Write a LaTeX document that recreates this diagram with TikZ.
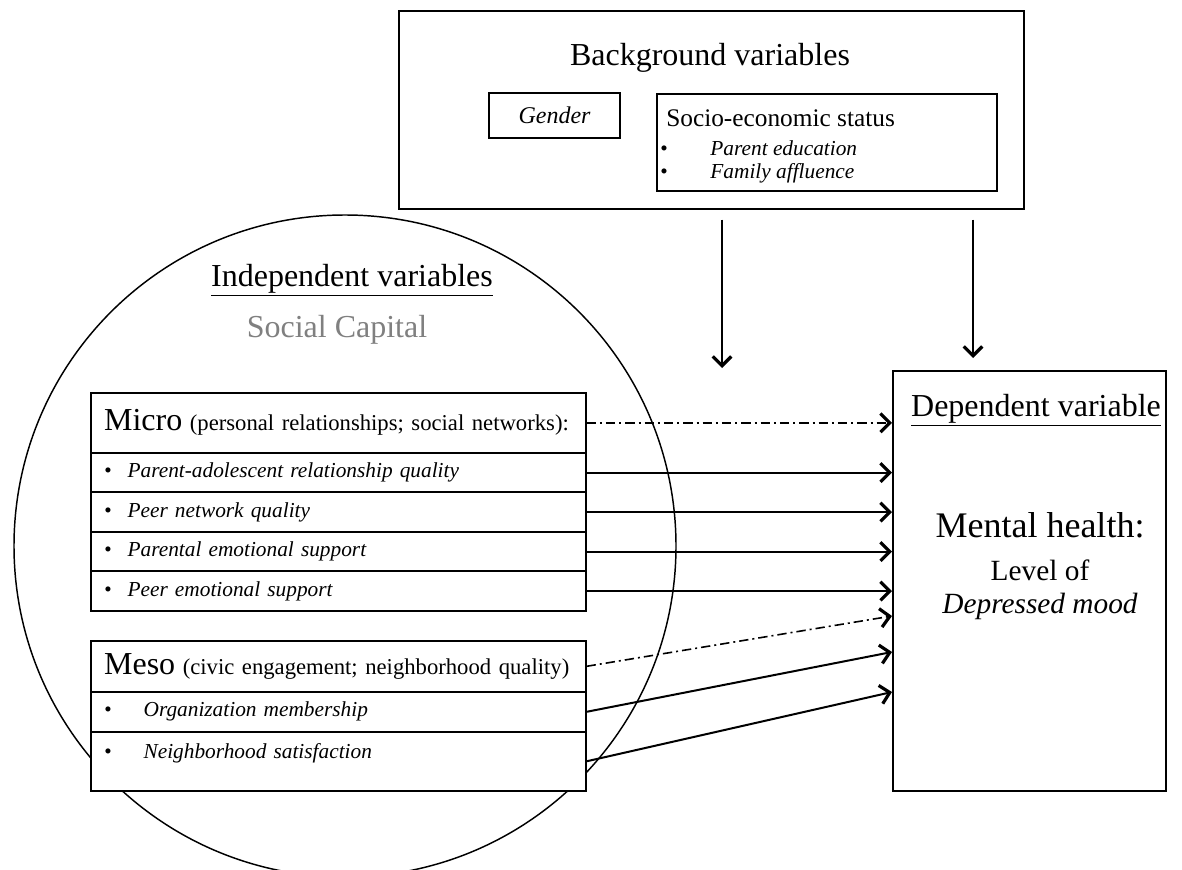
\documentclass[tikz,border=0pt]{standalone}
\usepackage{fontspec}
\setmainfont{Liberation Serif}
\usetikzlibrary{arrows.meta}

\begin{document}
\begin{tikzpicture}[x=0.75pt,y=-0.75pt,
  box/.style={draw,line width=1.2pt,fill=white,inner sep=0pt},
  rowbox/.style={draw,line width=1.2pt,fill=white,anchor=north west,text width=351.25pt,inner xsep=10pt,inner ysep=0pt,align=left,font=\fontsize{16}{19}\selectfont\itshape},
  hdrbox/.style={rowbox,font=\fontsize{17}{20}\selectfont},
  arr/.style={line width=1.5pt,-{Straight Barb[length=7pt,width=14pt,line width=2.4pt]}},
  dashdot/.style={arr,line width=1.2pt,dash pattern=on 7pt off 3pt on 1.5pt off 3pt},
  big/.style={font=\fontsize{24}{28}\selectfont}]
\useasboundingbox (0,0) rectangle (1182,870);
\clip (0,0) rectangle (1182,870);

% social capital circle
\node[draw,circle,line width=1.1pt,minimum size=496.5pt,inner sep=0pt] (capital) at (345,546) {};
\node[big] (indep) at (352,280) {\underline{Independent variables}};
\node[big,text=gray] (soccap) at (337,330) {Social Capital};

% background variables
\node[box,anchor=north west,minimum width=468.75pt,minimum height=148.5pt] (bg) at (398,10) {};
\node[big] (bgtitle) at (710,58) {Background variables};
\node[box,minimum width=98.25pt,minimum height=33.75pt,font=\fontsize{18}{21}\selectfont\itshape] (gender) at (554.5,115.5) {Gender};
\node[box,anchor=north west,minimum width=255pt,minimum height=72.75pt] (ses) at (656,93) {};
\node[anchor=west,inner sep=0pt,font=\fontsize{19}{22}\selectfont] (sestitle) at (666,118) {Socio-economic status};
\node[anchor=west,inner sep=0pt,font=\fontsize{16}{19}\selectfont] (sesa) at (660,148) {\textbullet\hspace{32pt}\textit{Parent education}};
\node[anchor=west,inner sep=0pt,font=\fontsize{16}{19}\selectfont] (sesb) at (660,173) {\textbullet\hspace{32pt}\textit{Family affluence}};

% micro level
\node[hdrbox,minimum height=45pt] (micro) at (90,392) {\fontsize{24}{28}\selectfont Micro \fontsize{17}{20}\selectfont(personal relationships; social networks):};
\node[rowbox,minimum height=29.6pt] (pa) at (90,452) {\textbullet\hspace{12pt}Parent-adolescent relationship quality};
\node[rowbox,minimum height=29.6pt] (pn) at (90,491.5) {\textbullet\hspace{12pt}Peer network quality};
\node[rowbox,minimum height=29.6pt] (pe) at (90,531) {\textbullet\hspace{12pt}Parental emotional support};
\node[rowbox,minimum height=29.6pt] (pee) at (90,570.5) {\textbullet\hspace{12pt}Peer emotional support};

% meso level
\node[hdrbox,minimum height=38.25pt] (meso) at (90,640) {\fontsize{24}{28}\selectfont Meso \fontsize{17}{20}\selectfont(civic engagement; neighborhood quality)};
\node[rowbox,minimum height=30pt] (org) at (90,691) {\textbullet\hspace{24pt}Organization membership};
\node[rowbox,minimum height=44.25pt,text depth=16pt] (nb) at (90,731) {\textbullet\hspace{24pt}Neighborhood satisfaction};

% dependent variable
\node[box,anchor=north west,minimum width=204.75pt,minimum height=315pt] (dv) at (892,370) {};
\node[big] (dvtitle) at (1036,410) {\underline{Dependent variable}};
\node[font=\fontsize{27}{32}\selectfont] (mh) at (1040,525) {Mental health:};
\node[font=\fontsize{22}{26}\selectfont] (lvl) at (1040,570) {Level of};
\node[font=\fontsize{22}{26}\selectfont\itshape] (dep) at (1040,606) {Depressed mood};

% arrows
\coordinate (gend) at (722,368);
\coordinate (send) at (973,358);
\coordinate (mesoin) at (892,616);
\coordinate (orgin) at (892,652);
\coordinate (nbin) at (892,692);
\draw[arr,shorten <=7.5pt] (bg.south -| gend) -- (gend);
\draw[arr,shorten <=7.5pt] (bg.south -| send) -- (send);
\draw[dashdot] (micro.east) -- (micro.east -| dv.west);
\draw[arr] (pa.east) -- (pa.east -| dv.west);
\draw[arr] (pn.east) -- (pn.east -| dv.west);
\draw[arr] (pe.east) -- (pe.east -| dv.west);
\draw[arr] (pee.east) -- (pee.east -| dv.west);
\draw[dashdot] (meso.east) -- (mesoin);
\draw[arr] (org.east) -- (orgin);
\draw[arr] (nb.east) -- (nbin);
\end{tikzpicture}
\end{document}
